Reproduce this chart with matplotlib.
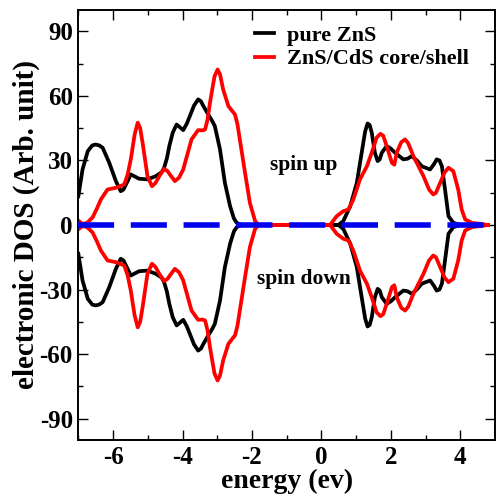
import matplotlib
matplotlib.use('Agg')
import matplotlib.pyplot as plt
from matplotlib.ticker import MultipleLocator

plt.rcParams['font.family'] = ['Liberation Serif', 'DejaVu Serif']
plt.rcParams['font.weight'] = 'bold'
plt.rcParams['axes.labelweight'] = 'bold'
plt.rcParams['axes.unicode_minus'] = False

# energy grid and DOS (spin up; spin down is the same magnitude)
zns_energy = [-7.0, -6.88, -6.73, -6.6, -6.5, -6.4, -6.3, -6.11, -5.92, -5.78, -5.7, -5.63,
              -5.49, -5.37, -5.25, -5.01, -4.77, -4.6, -4.53, -4.45, -4.38, -4.28, -4.17,
              -4.08, -3.98, -3.88, -3.79, -3.67, -3.55, -3.47, -3.40, -3.26, -3.15, -3.07,
              -2.92, -2.78, -2.63, -2.52, -2.44, -2.3, 0.3, 0.49, 0.63, 0.83, 1.02, 1.16,
              1.26, 1.33, 1.39, 1.45, 1.54, 1.62, 1.68, 1.74, 1.88, 2.0, 2.12, 2.36, 2.48,
              2.6, 2.75, 2.89, 3.13, 3.25, 3.32, 3.40, 3.47, 3.56, 3.66, 3.80, 4.0, 4.75]
zns_up = [13.4, 25.8, 34.3, 37.0, 37.4, 37.0, 35.9, 28.9, 20.4, 15.7, 16.5, 18.8,
          23.5, 22.5, 21.5, 21.2, 22.7, 24.5, 26.6, 31.0, 36.7, 43.0, 46.7,
          45.5, 44.1, 47.0, 50.6, 55.5, 58.4, 57.5, 55.3, 51.4, 48.5, 46.0,
          35.1, 19.6, 8.7, 3.0, 1.0, 0.0, 0.0, 0.0, 1.8, 8.7, 19.6, 33.6,
          43.5, 47.2, 46.5, 42.9, 33.6, 29.7, 30.5, 33.6, 36.7, 35.5, 33.6, 30.5, 30.8,
          32.0, 30.0, 27.3, 25.8, 28.5, 30.5, 30.0, 27.3, 16.5, 4.1, 1.0, 0.0, 0.0]
zns_down = [13.4, 25.8, 34.3, 37.0, 37.4, 37.0, 35.9, 28.9, 20.4, 15.7, 16.5, 18.8,
            23.5, 22.5, 21.5, 21.2, 22.7, 24.5, 26.6, 31.0, 36.7, 43.0, 46.7,
            45.5, 44.1, 47.0, 50.6, 55.5, 58.4, 57.5, 55.3, 51.4, 48.5, 46.0,
            35.1, 19.6, 8.7, 3.0, 1.0, 0.0, 0.0, 0.0, 1.8, 8.7, 19.6, 33.6,
            43.5, 47.2, 46.5, 42.9, 33.6, 29.7, 30.5, 33.6, 36.7, 35.5, 33.6, 30.5, 30.8,
            32.0, 30.0, 27.3, 25.8, 28.5, 30.5, 30.0, 27.3, 16.5, 4.1, 1.0, 0.0, 0.0]

cs_energy = [-7.0, -6.88, -6.75, -6.59, -6.47, -6.35, -6.16, -5.92, -5.68, -5.58, -5.49,
             -5.38, -5.29, -5.22, -5.15, -5.01, -4.88, -4.78, -4.67, -4.53, -4.43, -4.33,
             -4.22, -4.1, -3.98, -3.90, -3.74, -3.55, -3.42, -3.35, -3.28, -3.21, -3.08,
             -2.99, -2.92, -2.83, -2.68, -2.57, -2.49, -2.42, -2.35, -2.20, -2.06, -1.91,
             -1.8, 0.25, 0.44, 0.63, 0.78, 0.92, 1.11, 1.31, 1.45, 1.59, 1.70, 1.78, 1.88,
             2.03, 2.10, 2.17, 2.30, 2.41, 2.50, 2.65, 2.94, 3.10, 3.22, 3.30, 3.42, 3.55,
             3.66, 3.80, 3.94, 4.04, 4.14, 4.33, 4.8]
cs_up = [2.0, 0.5, 1.0, 3.5, 7.5, 11.9, 16.5, 17.3, 18.8, 23.5, 30.5,
         42.0, 47.6, 45.0, 38.2, 22.7, 18.0, 19.5, 22.7, 26.1, 25.0, 22.7,
         20.4, 22.0, 25.8, 30.5, 39.8, 44.1, 44.0, 44.4, 49.0, 56.8, 69.0,
         72.3, 70.0, 63.0, 55.3, 53.0, 51.4, 47.0, 39.8, 24.3, 10.3, 1.8,
         0.0, 0.0, 4.1, 6.4, 7.2, 11.9, 21.2, 27.3, 33.6, 40.6, 42.4, 41.5, 36.7,
         28.9, 28.0, 33.6, 38.5, 39.8, 38.0, 32.0, 22.7, 16.5, 14.2, 15.0, 19.6, 24.5,
         26.6, 25.0, 16.5, 7.2, 2.6, 1.0, 0.0]
cs_down = [2.0, 0.5, 1.0, 3.5, 7.5, 11.9, 16.5, 17.3, 18.8, 23.5, 30.5,
           42.0, 47.6, 45.0, 38.2, 22.7, 18.0, 19.5, 22.7, 26.1, 25.0, 22.7,
           20.4, 22.0, 25.8, 30.5, 39.8, 44.1, 44.0, 44.4, 49.0, 56.8, 69.0,
           72.3, 70.0, 63.0, 55.3, 53.0, 51.4, 47.0, 39.8, 24.3, 10.3, 1.8,
           0.0, 0.0, 4.1, 6.4, 7.2, 11.9, 21.2, 27.3, 33.6, 40.6, 42.4, 41.5, 36.7,
           28.9, 28.0, 33.6, 38.5, 39.8, 38.0, 32.0, 22.7, 16.5, 14.2, 15.0, 19.6, 24.5,
           26.6, 25.0, 16.5, 7.2, 2.6, 1.0, 0.0]

zero_line = [-7.0, 4.72]

fig = plt.figure(figsize=(4.96, 4.95), dpi=100)
ax = fig.add_axes([0.158, 0.111, 0.840, 0.869])

lw = 2.7
ax.plot(zns_energy, zns_up, color='black', lw=lw, solid_joinstyle='round', label='pure ZnS')
ax.plot(zns_energy, [-v for v in zns_down], color='black', lw=lw, solid_joinstyle='round')
ax.plot(cs_energy, cs_up, color='red', lw=lw, solid_joinstyle='round', label='ZnS/CdS core/shell')
ax.plot(cs_energy, [-v for v in cs_down], color='red', lw=lw, solid_joinstyle='round')

# Fermi level / zero line
ax.plot(zero_line, [0, 0], color='#0000ee', lw=4.0, dashes=(6.5, 3.0), zorder=5)

ax.text(-0.5, 28, 'spin up', ha='center', va='center', fontsize=15.5, fontweight='bold')
ax.text(-0.5, -25, 'spin down', ha='center', va='center', fontsize=15.5, fontweight='bold')

ax.set_xlim(-7, 5)
ax.set_ylim(-100, 100)
ax.xaxis.set_major_locator(MultipleLocator(2))
ax.xaxis.set_minor_locator(MultipleLocator(1))
ax.yaxis.set_major_locator(MultipleLocator(30))
ax.yaxis.set_minor_locator(MultipleLocator(15))
ax.tick_params(which='both', direction='in', top=True, right=True, width=1.0, labelsize=18)
ax.tick_params(which='major', length=7)
ax.tick_params(which='minor', length=3.5)
ax.tick_params(axis='x', pad=4)
ax.tick_params(axis='y', pad=4)
for lab in ax.get_xticklabels() + ax.get_yticklabels():
    lab.set_fontweight('bold')
for s in ax.spines.values():
    s.set_linewidth(1.4)

ax.set_xlabel('energy (ev)', fontsize=20, fontweight='bold', labelpad=0)
ax.set_ylabel('electronic DOS (Arb. unit)', fontsize=21, fontweight='bold', labelpad=0)

ax.legend(loc='upper left', bbox_to_anchor=(0.425, 0.965), frameon=False,
          prop={'size': 16, 'weight': 'bold'},
          handlelength=0.85, handletextpad=0.55, labelspacing=0.15,
          borderaxespad=0, borderpad=0)

fig.savefig('out.png', dpi=100)
